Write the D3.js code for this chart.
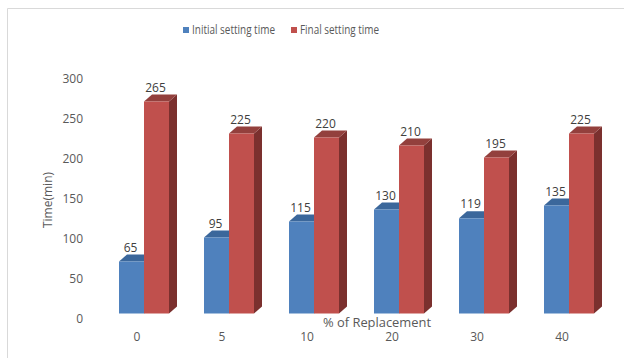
<!DOCTYPE html>
<html>
<head>
<meta charset="utf-8">
<script src="https://cdnjs.cloudflare.com/ajax/libs/d3/7.8.5/d3.min.js"></script>
<style>
  body{margin:0;background:#fff}
  svg text{font-family:"Open Sans",sans-serif}
</style>
</head>
<body>
<script>
const categorias=["0","5","10","20","30","40"]
const inicial=[65,95,115,130,119,135]
const final=[265,225,220,210,195,225]
const series=["Initial setting time","Final setting time"]
const ticksY=[0,50,100,150,200,250,300]

const width=624
const height=358
const anchoBarra=25
const dx=8, dy=7   // profundidad 3d
const subida=5     // el suelo de las barras queda un poco arriba del 0

const svg=d3.select("body").append("svg")
  .attr("width",width).attr("height",height)

// marco gris
svg.append("path")
  .attr("d","M7.5,358 L7.5,8.5 L624,8.5")
  .attr("fill","none").attr("stroke","#d9d9d9").attr("stroke-width",1)

const escalaY=d3.scaleLinear().domain([0,300]).range([318.5,78.5])
const escalaX=d3.scalePoint().domain(categorias).range([144,569])

const yAxis=d3.axisLeft(escalaY).tickValues(ticksY).tickSize(0).tickPadding(0)
svg.append("g").attr("transform","translate(83,0)").call(yAxis)
  .call(g=>g.select(".domain").remove())
  .selectAll("text").attr("font-size",12).attr("fill","#595959")
  .attr("font-family","Open Sans")

const barras=[
  {datos:inicial,frente:"#4f81bd",arriba:"#3b679b",lado:"#2f5381",off:-anchoBarra},
  {datos:final,frente:"#c0504d",arriba:"#93403d",lado:"#7b302e",off:0}
]

barras.forEach(s=>{
  const g=svg.append("g")
  const d=categorias.map((c,i)=>({c:c,v:s.datos[i]}))
  const x0=(e)=>escalaX(e.c)+s.off
  const yT=(e)=>escalaY(e.v)-subida
  const yB=escalaY(0)-subida
  // cara lateral
  g.selectAll(".lado").data(d).enter().append("path")
    .attr("d",e=>`M${x0(e)+anchoBarra},${yT(e)} L${x0(e)+anchoBarra+dx},${yT(e)-dy} L${x0(e)+anchoBarra+dx},${yB-dy} L${x0(e)+anchoBarra},${yB} Z`)
    .attr("fill",s.lado)
  // cara superior
  g.selectAll(".arriba").data(d).enter().append("path")
    .attr("d",e=>`M${x0(e)},${yT(e)} L${x0(e)+dx},${yT(e)-dy} L${x0(e)+anchoBarra+dx},${yT(e)-dy} L${x0(e)+anchoBarra},${yT(e)} Z`)
    .attr("fill",s.arriba)
  // frente
  g.selectAll("rect").data(d).enter().append("rect")
    .attr("x",x0).attr("y",yT)
    .attr("width",anchoBarra).attr("height",e=>yB-yT(e))
    .attr("fill",s.frente)
  // etiquetas de valor
  g.selectAll("text").data(d).enter().append("text")
    .attr("x",e=>x0(e)+anchoBarra/2-1).attr("y",e=>yT(e)-10)
    .attr("text-anchor","middle").attr("font-size",12).attr("fill","#404040")
    .text(e=>e.v)
})

// etiquetas de categoria
svg.append("g").selectAll("text").data(categorias).enter().append("text")
  .attr("x",c=>escalaX(c)-7).attr("y",341)
  .attr("text-anchor","middle").attr("font-size",12).attr("fill","#595959")
  .text(c=>c)

// titulos de ejes
svg.append("text").attr("x",377).attr("y",327)
  .attr("text-anchor","middle").attr("font-size",12).attr("fill","#595959")
  .attr("textLength",108).attr("lengthAdjust","spacingAndGlyphs")
  .text("% of Replacement")
svg.append("text").attr("transform","translate(52,200) rotate(-90)")
  .attr("text-anchor","middle").attr("font-size",12).attr("fill","#595959")
  .text("Time(min)")

// leyenda
const leyenda=svg.append("g")
const colLey=["#4f81bd","#c0504d"]
const posLey=[183,291]
const largoLey=[83,79]
series.forEach((s,i)=>{
  leyenda.append("rect").attr("x",posLey[i]).attr("y",27).attr("width",6).attr("height",6).attr("fill",colLey[i])
  leyenda.append("text").attr("x",posLey[i]+9).attr("y",34)
    .attr("font-size",12).attr("fill","#595959")
    .attr("textLength",largoLey[i]).attr("lengthAdjust","spacingAndGlyphs")
    .text(s)
})
</script>
</body>
</html>
